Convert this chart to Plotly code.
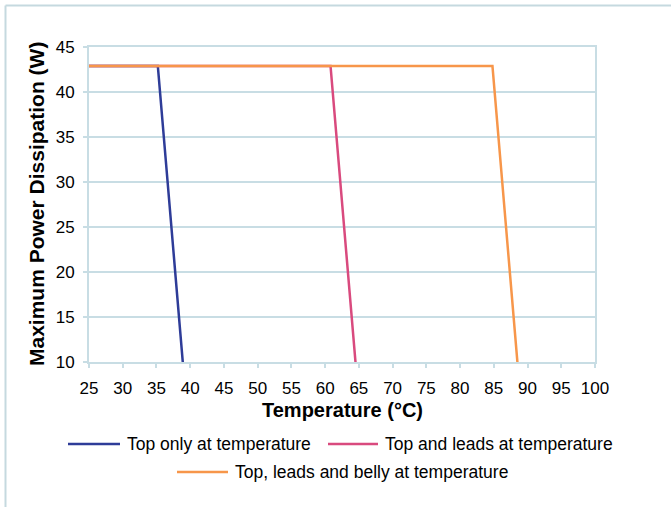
import plotly.graph_objects as go

series_names = ["Top only at temperature", "Top and leads at temperature",
                "Top, leads and belly at temperature"]
blue_x = [25, 35.2, 38.9]
pink_x = [25, 60.8, 64.5]
orange_x = [25, 84.8, 88.5]
power_y = [42.9, 42.9, 10]

colors = ["#2E3C98", "#D94A7E", "#F7964A"]
xs = [blue_x, pink_x, orange_x]

W, H = 671, 507
L, R, T, B = 89, 76, 47, 145
pw, ph = W - L - R, H - T - B


def px2x(p):
    return (p - L) / pw


def py2y(p):
    return (H - B - p) / ph


FONT = "Liberation Sans, Arial, sans-serif"
grid = "#C8DDE4"

fig = go.Figure()
for name, x, c in zip(series_names, xs, colors):
    fig.add_trace(go.Scatter(x=x, y=power_y, mode="lines", name=name,
                             line=dict(color=c, width=2.5), showlegend=False))

# outer frame (left and top edges visible)
fig.add_shape(type="line", xref="paper", yref="paper",
              x0=px2x(5.5), x1=px2x(671), y0=py2y(5.5), y1=py2y(5.5),
              line=dict(color="#C5D9DF", width=2))
fig.add_shape(type="line", xref="paper", yref="paper",
              x0=px2x(5.5), x1=px2x(5.5), y0=py2y(5.5), y1=py2y(507),
              line=dict(color="#C5D9DF", width=2))

# manual legend: (line start px, line end px, text start px, row y px)
legend_pos = [(68, 120, 125, 444), (328, 378, 383, 444), (177, 228, 233, 472)]
for name, c, (lx0, lx1, tx, ly) in zip(series_names, colors, legend_pos):
    fig.add_shape(type="line", xref="paper", yref="paper",
                  x0=px2x(lx0), x1=px2x(lx1), y0=py2y(ly), y1=py2y(ly),
                  line=dict(color=c, width=2.5))
    fig.add_annotation(xref="paper", yref="paper", x=px2x(tx), y=py2y(ly),
                       text=name, showarrow=False, xanchor="left", yanchor="middle",
                       font=dict(family=FONT, size=17.5, color="#000"))

# axis titles
fig.add_annotation(xref="paper", yref="paper", x=px2x(342), y=py2y(410),
                   text="<b>Temperature (°C)</b>", showarrow=False,
                   xanchor="center", yanchor="middle",
                   font=dict(family=FONT, size=20, color="#000"))
fig.add_annotation(xref="paper", yref="paper", x=px2x(36), y=py2y(204),
                   text="<b>Maximum Power Dissipation (W)</b>", showarrow=False,
                   textangle=-90, xanchor="center", yanchor="middle",
                   font=dict(family=FONT, size=21, color="#000"))

fig.update_layout(
    width=W, height=H,
    margin=dict(l=L, r=R, t=T, b=B, autoexpand=False),
    paper_bgcolor="white", plot_bgcolor="white",
    font=dict(family=FONT, size=17, color="#000000"),
    showlegend=False,
    xaxis=dict(range=[25, 100], dtick=5, tick0=25, automargin=False,
               showgrid=False, showline=True, linecolor=grid, linewidth=2,
               mirror=True, ticks="outside", ticklen=4, tickcolor=grid, tickwidth=1.5,
               ticklabelstandoff=6, zeroline=False,
               tickfont=dict(family=FONT, size=17, color="#000")),
    yaxis=dict(range=[10, 45], dtick=5, tick0=10, automargin=False,
               showgrid=True, gridcolor=grid, gridwidth=1.5,
               showline=True, linecolor=grid, linewidth=2, mirror=True,
               ticks="outside", ticklen=4, tickcolor=grid, tickwidth=1.5,
               ticklabelstandoff=5, zeroline=False,
               tickfont=dict(family=FONT, size=17, color="#000")),
)

fig.write_html("out.html", config={"displayModeBar": False},
               post_script="document.body.style.margin='0px';document.body.style.overflow='hidden';")
